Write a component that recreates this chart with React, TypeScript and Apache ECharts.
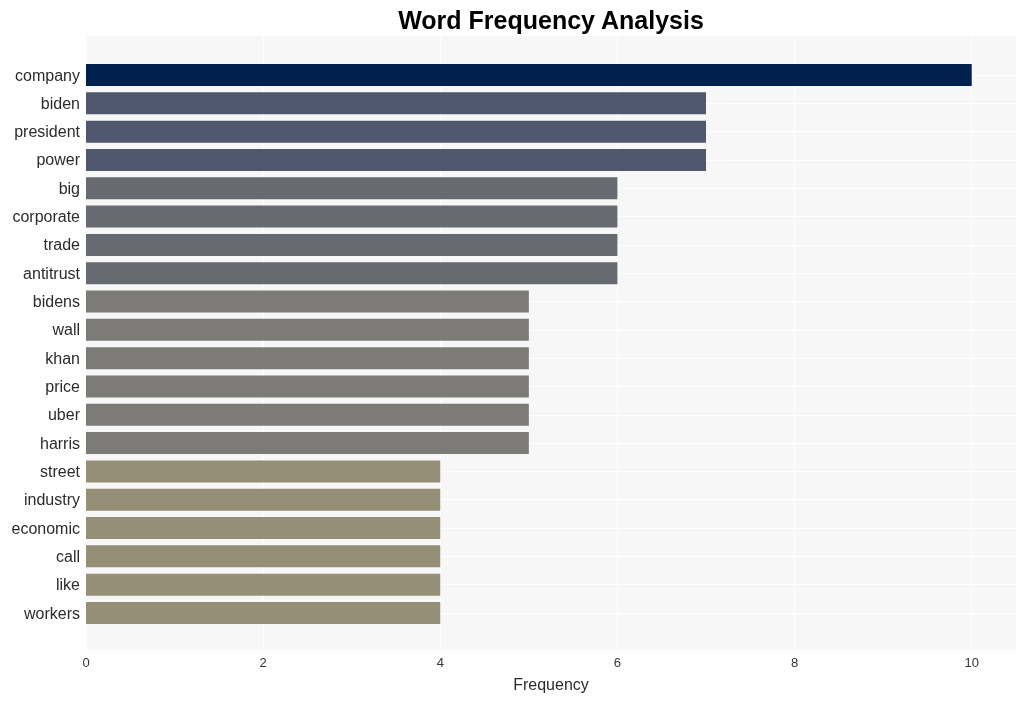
import React, { useEffect, useRef } from "react";
import * as echarts from "echarts";

const categories = [
  "company", "biden", "president", "power", "big", "corporate", "trade", "antitrust",
  "bidens", "wall", "khan", "price", "uber", "harris",
  "street", "industry", "economic", "call", "like", "workers",
];
const values = [10, 7, 7, 7, 6, 6, 6, 6, 5, 5, 5, 5, 5, 5, 4, 4, 4, 4, 4, 4];
const colorByValue: Record<number, string> = {
  10: "#00214e",
  7: "#4f586e",
  6: "#686a72",
  5: "#7c7b78",
  4: "#958f77",
};
const xTicks = [0, 2, 4, 6, 8, 10];

export default function App() {
  const ref = useRef<HTMLDivElement>(null);
  useEffect(() => {
    if (!ref.current) return;
    const chart = echarts.init(ref.current, undefined, { renderer: "svg" });
    const font = "Liberation Sans, Arial, sans-serif";
    chart.setOption({
      animation: false,
      textStyle: { fontFamily: font },
      grid: [
        { left: 86, top: 36, width: 930, height: 614, show: true, backgroundColor: "#f7f7f7", borderWidth: 0 },
        { left: 86, top: 75, width: 930, height: 538, show: false },
      ],
      xAxis: [
        {
          type: "value", gridIndex: 0, min: 0, max: 10.5, interval: 2,
          axisLine: { show: false }, axisTick: { show: false },
          axisLabel: {
            fontSize: 13, color: "#333333", margin: 6, fontFamily: font,
            formatter: (v: number) => (xTicks.includes(v) ? String(v) : ""),
          },
          splitLine: { show: true, lineStyle: { color: "#ffffff", width: 1 } },
        },
        { type: "value", gridIndex: 1, min: 0, max: 10.5, show: false },
      ],
      yAxis: [
        { type: "value", gridIndex: 0, show: false },
        {
          type: "category", gridIndex: 1, data: categories, inverse: true, boundaryGap: false,
          axisLine: { show: false }, axisTick: { show: false },
          axisLabel: { fontSize: 16, color: "#2b2b2b", margin: 6, fontFamily: font },
          splitLine: { show: true, lineStyle: { color: "#ffffff", width: 1 } },
        },
      ],
      series: [
        {
          type: "bar", xAxisIndex: 1, yAxisIndex: 1, barWidth: 22, clip: false,
          data: values.map((v) => ({ value: v, itemStyle: { color: colorByValue[v] } })),
        },
      ],
      graphic: [
        {
          type: "text", x: 551, y: 20,
          style: {
            text: "Word Frequency Analysis", font: `bold 25px ${font}`, fill: "#000000",
            textAlign: "center", textVerticalAlign: "middle",
          },
        },
        {
          type: "text", x: 551, y: 684,
          style: {
            text: "Frequency", font: `16px ${font}`, fill: "#2b2b2b",
            textAlign: "center", textVerticalAlign: "middle",
          },
        },
      ],
    });
    return () => chart.dispose();
  }, []);
  return <div ref={ref} style={{ position: "fixed", left: 0, top: 0, width: 1026, height: 701 }} />;
}
